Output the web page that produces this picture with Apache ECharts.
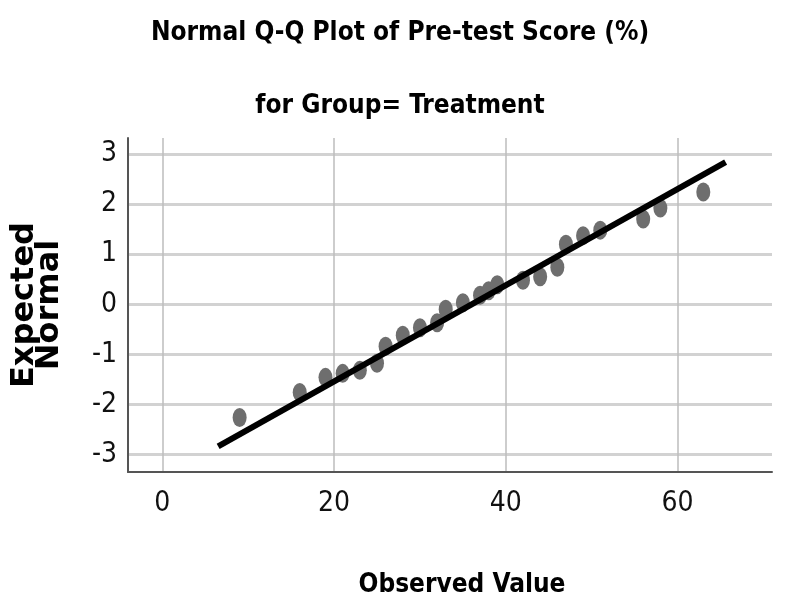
<!DOCTYPE html>
<html>
<head>
<meta charset="utf-8">
<script src="https://cdn.jsdelivr.net/npm/echarts@6/dist/echarts.min.js"></script>
<style>
    html, body { margin: 0; padding: 0; background: #fff; }
    #qq_plot { width: 799px; height: 613px; }
</style>
</head>
<body>
<div id="qq_plot"></div>
<script>
const observed = [9, 16, 19, 21, 23, 25, 26, 28, 30, 32, 33, 35, 37, 38, 39, 42, 44, 46, 47, 49, 51, 56, 58, 63];
const expected = [-2.26, -1.76, -1.46, -1.38, -1.32, -1.18, -0.84, -0.62, -0.47, -0.37, -0.1, 0.03, 0.18, 0.27, 0.39, 0.48, 0.55, 0.74, 1.2, 1.37, 1.48, 1.7, 1.92, 2.24];
// reference line end points
const lineX = [6.5, 65.6];
const lineY = [-2.84, 2.84];

const narrow = '"Liberation Sans Narrow", "DejaVu Sans Condensed", "Arial Narrow", sans-serif';

const points = observed.map((v, i) => [v, expected[i]]);
const refLine = lineX.map((v, i) => [v, lineY[i]]);

const option = {
    animation: false,
    title: [
        {
            text: 'Normal Q-Q Plot of Pre-test Score (%)',
            left: 395,
            top: 15,
            textAlign: 'center',
            textStyle: {fontFamily: narrow, fontWeight: 'bold', fontSize: 26, color: '#000'}
        },
        {
            text: 'for Group= Treatment',
            left: 395,
            top: 88,
            textAlign: 'center',
            textStyle: {fontFamily: narrow, fontWeight: 'bold', fontSize: 26, color: '#000'}
        }
    ],
    grid: {
        left: 128,
        right: 27,
        top: 138,
        bottom: 141
    },
    xAxis: {
        type: 'value',
        min: -4,
        max: 71,
        splitNumber: 4,
        name: 'Observed Value',
        nameLocation: 'middle',
        nameGap: 100,
        nameTextStyle: {fontFamily: narrow, fontWeight: 'bold', fontSize: 26, color: '#000', padding: [0, 0, 0, 24]},
        axisLine: {onZero: false, lineStyle: {color: '#555', width: 2}},
        axisTick: {show: false},
        axisLabel: {
            fontFamily: narrow, fontSize: 28, color: '#111', margin: 18,
            showMinLabel: false, showMaxLabel: false
        },
        splitLine: {show: true, showMinLine: false, showMaxLine: false, lineStyle: {color: '#bcbcbc', width: 1.5}}
    },
    yAxis: {
        type: 'value',
        min: -3.35,
        max: 3.32,
        splitNumber: 6,
        name: 'Expected\nNormal',
        nameLocation: 'middle',
        nameRotate: 90,
        nameGap: 66,
        nameTextStyle: {fontFamily: 'DejaVu Sans, sans-serif', fontWeight: 'bold', fontSize: 32, color: '#000', lineHeight: 25},
        axisLine: {onZero: false, lineStyle: {color: '#555', width: 2}},
        axisTick: {show: false},
        axisLabel: {
            fontFamily: narrow, fontSize: 28, color: '#111', margin: 11,
            showMinLabel: false, showMaxLabel: false
        },
        splitLine: {show: true, showMinLine: false, showMaxLine: false, lineStyle: {color: '#d2d2d2', width: 3}}
    },
    series: [
        {
            type: 'scatter',
            data: points,
            symbol: 'circle',
            symbolSize: [14, 19],
            itemStyle: {color: '#6e6e6e', opacity: 1},
            z: 2
        },
        {
            type: 'line',
            data: refLine,
            symbol: 'none',
            lineStyle: {color: '#000', width: 6},
            z: 3
        }
    ]
};

const qqChart = echarts.init(document.getElementById('qq_plot'));
qqChart.setOption(option);
window.addEventListener('resize', function () {
    qqChart.resize();
});
</script>
</body>
</html>
